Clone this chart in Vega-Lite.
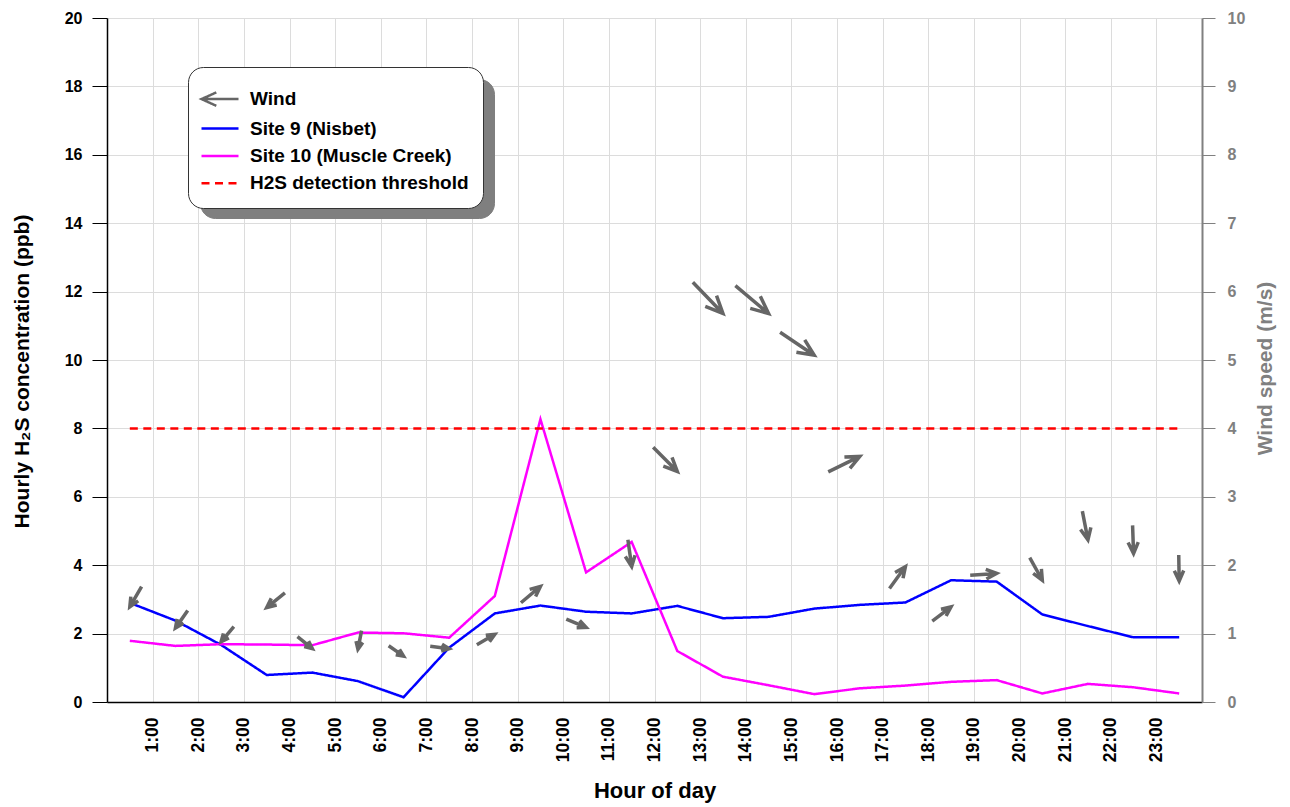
{
  "$schema": "https://vega.github.io/schema/vega-lite/v6.json",
  "width": 1095,
  "height": 684,
  "autosize": "none",
  "padding": {"left": 107, "top": 18, "right": 88, "bottom": 105},
  "background": "white",
  "config": {
    "font": "Liberation Sans",
    "view": {"stroke": null},
    "axis": {
      "labelFont": "Liberation Sans",
      "labelFontWeight": "bold",
      "labelFontSize": 16,
      "labelColor": "black",
      "titleFont": "Liberation Sans",
      "titleFontWeight": "bold",
      "titleFontSize": 21,
      "titleColor": "black",
      "gridColor": "#dcdcdc",
      "gridWidth": 1
    }
  },
  "layer": [
    {
      "data": {
        "values": [
          {"hour": 0.5, "series": "Site 9 (Nisbet)", "ppb": 2.90},
          {"hour": 1.5, "series": "Site 9 (Nisbet)", "ppb": 2.38},
          {"hour": 2.5, "series": "Site 9 (Nisbet)", "ppb": 1.67},
          {"hour": 3.5, "series": "Site 9 (Nisbet)", "ppb": 0.79},
          {"hour": 4.5, "series": "Site 9 (Nisbet)", "ppb": 0.86},
          {"hour": 5.5, "series": "Site 9 (Nisbet)", "ppb": 0.61},
          {"hour": 6.5, "series": "Site 9 (Nisbet)", "ppb": 0.14},
          {"hour": 7.5, "series": "Site 9 (Nisbet)", "ppb": 1.59},
          {"hour": 8.5, "series": "Site 9 (Nisbet)", "ppb": 2.59},
          {"hour": 9.5, "series": "Site 9 (Nisbet)", "ppb": 2.82},
          {"hour": 10.5, "series": "Site 9 (Nisbet)", "ppb": 2.64},
          {"hour": 11.5, "series": "Site 9 (Nisbet)", "ppb": 2.59},
          {"hour": 12.5, "series": "Site 9 (Nisbet)", "ppb": 2.81},
          {"hour": 13.5, "series": "Site 9 (Nisbet)", "ppb": 2.45},
          {"hour": 14.5, "series": "Site 9 (Nisbet)", "ppb": 2.49},
          {"hour": 15.5, "series": "Site 9 (Nisbet)", "ppb": 2.73},
          {"hour": 16.5, "series": "Site 9 (Nisbet)", "ppb": 2.84},
          {"hour": 17.5, "series": "Site 9 (Nisbet)", "ppb": 2.91},
          {"hour": 18.5, "series": "Site 9 (Nisbet)", "ppb": 3.56},
          {"hour": 19.5, "series": "Site 9 (Nisbet)", "ppb": 3.52},
          {"hour": 20.5, "series": "Site 9 (Nisbet)", "ppb": 2.56},
          {"hour": 21.5, "series": "Site 9 (Nisbet)", "ppb": 2.22},
          {"hour": 22.5, "series": "Site 9 (Nisbet)", "ppb": 1.89},
          {"hour": 23.5, "series": "Site 9 (Nisbet)", "ppb": 1.89},
          {"hour": 0.5, "series": "Site 10 (Muscle Creek)", "ppb": 1.79},
          {"hour": 1.5, "series": "Site 10 (Muscle Creek)", "ppb": 1.64},
          {"hour": 2.5, "series": "Site 10 (Muscle Creek)", "ppb": 1.69},
          {"hour": 3.5, "series": "Site 10 (Muscle Creek)", "ppb": 1.68},
          {"hour": 4.5, "series": "Site 10 (Muscle Creek)", "ppb": 1.66},
          {"hour": 5.5, "series": "Site 10 (Muscle Creek)", "ppb": 2.03},
          {"hour": 6.5, "series": "Site 10 (Muscle Creek)", "ppb": 2.01},
          {"hour": 7.5, "series": "Site 10 (Muscle Creek)", "ppb": 1.88},
          {"hour": 8.5, "series": "Site 10 (Muscle Creek)", "ppb": 3.10},
          {"hour": 9.5, "series": "Site 10 (Muscle Creek)", "ppb": 8.27},
          {"hour": 10.5, "series": "Site 10 (Muscle Creek)", "ppb": 3.79},
          {"hour": 11.5, "series": "Site 10 (Muscle Creek)", "ppb": 4.68},
          {"hour": 12.5, "series": "Site 10 (Muscle Creek)", "ppb": 1.49},
          {"hour": 13.5, "series": "Site 10 (Muscle Creek)", "ppb": 0.74},
          {"hour": 14.5, "series": "Site 10 (Muscle Creek)", "ppb": 0.49},
          {"hour": 15.5, "series": "Site 10 (Muscle Creek)", "ppb": 0.23},
          {"hour": 16.5, "series": "Site 10 (Muscle Creek)", "ppb": 0.40},
          {"hour": 17.5, "series": "Site 10 (Muscle Creek)", "ppb": 0.48},
          {"hour": 18.5, "series": "Site 10 (Muscle Creek)", "ppb": 0.59},
          {"hour": 19.5, "series": "Site 10 (Muscle Creek)", "ppb": 0.64},
          {"hour": 20.5, "series": "Site 10 (Muscle Creek)", "ppb": 0.25},
          {"hour": 21.5, "series": "Site 10 (Muscle Creek)", "ppb": 0.53},
          {"hour": 22.5, "series": "Site 10 (Muscle Creek)", "ppb": 0.43},
          {"hour": 23.5, "series": "Site 10 (Muscle Creek)", "ppb": 0.25},
          {"hour": 0.5, "series": "H2S detection threshold", "ppb": 8},
          {"hour": 23.5, "series": "H2S detection threshold", "ppb": 8}
        ]
      },
      "mark": {"type": "line", "strokeWidth": 2.5},
      "encoding": {
        "x": {
          "field": "hour",
          "type": "quantitative",
          "scale": {"domain": [0, 24], "nice": false},
          "axis": {
            "values": [1, 2, 3, 4, 5, 6, 7, 8, 9, 10, 11, 12, 13, 14, 15, 16, 17, 18, 19, 20, 21, 22, 23],
            "labelExpr": "datum.value + ':00'",
            "labelAngle": 270,
            "labelAlign": "right",
            "labelBaseline": "middle",
            "labelFontSize": 17.5,
            "ticks": false,
            "labelPadding": 15,
            "grid": true,
            "domainColor": "black",
            "domainWidth": 1.5,
            "title": "Hour of day",
            "titleFontSize": 22,
            "titleY": 78,
            "titleBaseline": "top"
          }
        },
        "y": {
          "field": "ppb",
          "type": "quantitative",
          "scale": {"domain": [0, 20], "nice": false},
          "axis": {
            "values": [0, 2, 4, 6, 8, 10, 12, 14, 16, 18, 20],
            "grid": true,
            "tickSize": 15,
            "tickColor": "black",
            "domainColor": "black",
            "domainWidth": 1.5,
            "labelPadding": 10,
            "title": "Hourly H₂S concentration (ppb)",
            "titleAngle": 270,
            "titleX": -85,
            "titleY": 353,
            "titleBaseline": "middle"
          }
        },
        "color": {
          "field": "series",
          "type": "nominal",
          "scale": {
            "domain": ["Wind", "Site 9 (Nisbet)", "Site 10 (Muscle Creek)", "H2S detection threshold"],
            "range": ["#666666", "#0000ff", "#ff00ff", "#ff0000"]
          },
          "legend": {
            "title": " ",
            "titleFontSize": 1,
            "titlePadding": 5.6,
            "orient": "none",
            "legendX": 81,
            "legendY": 49,
            "zindex": 2,
            "fillColor": "white",
            "strokeColor": "#333333",
            "cornerRadius": 15,
            "padding": 14,
            "symbolSize": 400,
            "symbolStrokeWidth": 2.5,
            "symbolOffset": -12,
            "labelOffset": 37,
            "labelFont": "Liberation Sans",
            "labelFontSize": 19,
            "labelFontWeight": "bold",
            "labelColor": "black",
            "labelLimit": 400,
            "rowPadding": 5.4
          }
        },
        "strokeDash": {
          "field": "series",
          "type": "nominal",
          "scale": {
            "domain": ["Wind", "Site 9 (Nisbet)", "Site 10 (Muscle Creek)", "H2S detection threshold"],
            "range": [[1, 0], [1, 0], [1, 0], [8, 5.5]]
          }
        },
        "opacity": {
          "field": "series",
          "type": "nominal",
          "scale": {
            "domain": ["Site 9 (Nisbet)", "Wind", "Site 10 (Muscle Creek)", "H2S detection threshold"],
            "range": [1, 1, 1, 1]
          },
          "legend": {
            "title": null,
            "orient": "none",
            "legendX": 93,
            "legendY": 61,
            "zindex": 1,
            "fillColor": "#7f7f7f",
            "strokeColor": "#7f7f7f",
            "cornerRadius": 15,
            "padding": 14,
            "symbolSize": 400,
            "symbolOpacity": 0,
            "symbolStrokeWidth": 2.5,
            "symbolOffset": -12,
            "labelOffset": 255,
            "labelExpr": "''",
            "labelFont": "Liberation Sans",
            "labelFontSize": 19,
            "labelFontWeight": "bold",
            "labelColor": "#7f7f7f",
            "labelLimit": 400,
            "rowPadding": 7.6
          }
        }
      }
    },
    {
      "data": {
        "values": [
          {"hour": 0.5, "series": "Wind", "speed": 1.39, "dir": 30},
          {"hour": 1.5, "series": "Wind", "speed": 1.08, "dir": 35},
          {"hour": 2.5, "series": "Wind", "speed": 0.88, "dir": 40},
          {"hour": 3.5, "series": "Wind", "speed": 1.38, "dir": 51},
          {"hour": 4.5, "series": "Wind", "speed": 0.78, "dir": 309},
          {"hour": 5.5, "series": "Wind", "speed": 0.77, "dir": 11},
          {"hour": 6.5, "series": "Wind", "speed": 0.67, "dir": 305},
          {"hour": 7.5, "series": "Wind", "speed": 0.78, "dir": 277},
          {"hour": 8.5, "series": "Wind", "speed": 0.99, "dir": 240},
          {"hour": 9.5, "series": "Wind", "speed": 1.69, "dir": 230},
          {"hour": 10.5, "series": "Wind", "speed": 1.09, "dir": 293},
          {"hour": 11.5, "series": "Wind", "speed": 1.98, "dir": 352},
          {"hour": 12.5, "series": "Wind", "speed": 3.37, "dir": 315},
          {"hour": 13.5, "series": "Wind", "speed": 5.68, "dir": 316},
          {"hour": 14.5, "series": "Wind", "speed": 5.68, "dir": 310},
          {"hour": 15.5, "series": "Wind", "speed": 5.07, "dir": 304},
          {"hour": 16.5, "series": "Wind", "speed": 3.59, "dir": 244},
          {"hour": 17.5, "series": "Wind", "speed": 1.98, "dir": 216},
          {"hour": 18.5, "series": "Wind", "speed": 1.39, "dir": 233},
          {"hour": 19.5, "series": "Wind", "speed": 1.88, "dir": 266},
          {"hour": 20.5, "series": "Wind", "speed": 1.78, "dir": 331},
          {"hour": 21.5, "series": "Wind", "speed": 2.37, "dir": 349},
          {"hour": 22.5, "series": "Wind", "speed": 2.17, "dir": 358},
          {"hour": 23.5, "series": "Wind", "speed": 1.77, "dir": 359}
        ]
      },
      "mark": {"type": "point", "filled": false, "strokeWidth": 3.5, "opacity": 1, "strokeJoin": "miter"},
      "encoding": {
        "x": {"field": "hour", "type": "quantitative"},
        "y": {
          "field": "speed",
          "type": "quantitative",
          "scale": {"domain": [0, 10], "nice": false},
          "axis": {
            "orient": "right",
            "values": [0, 1, 2, 3, 4, 5, 6, 7, 8, 9, 10],
            "grid": false,
            "tickSize": 13,
            "labelPadding": 12,
            "domainColor": "#808080",
            "domainWidth": 2,
            "tickColor": "#808080",
            "labelColor": "#808080",
            "titleColor": "#808080",
            "title": "Wind speed (m/s)",
            "titleAngle": 270,
            "titleX": 63,
            "titleY": 350,
            "titleBaseline": "middle"
          }
        },
        "color": {"field": "series", "type": "nominal"},
        "shape": {
          "field": "series",
          "type": "nominal",
          "scale": {
            "domain": ["Wind", "Site 9 (Nisbet)", "Site 10 (Muscle Creek)", "H2S detection threshold"],
            "range": ["M0,0L3.7,0M1.48,-0.67L0,0L1.48,0.67", "M0,0L3.7,0", "M0,0L3.7,0", "M0,0L3.7,0"]
          }
        },
        "angle": {
          "field": "dir",
          "type": "quantitative",
          "scale": {"domain": [0, 360], "range": [-90, 270]}
        },
        "size": {
          "field": "speed",
          "type": "quantitative",
          "scale": {"domain": [0, 6], "range": [36.2, 578]},
          "legend": null
        }
      }
    }
  ],
  "resolve": {"scale": {"y": "independent"}}
}
